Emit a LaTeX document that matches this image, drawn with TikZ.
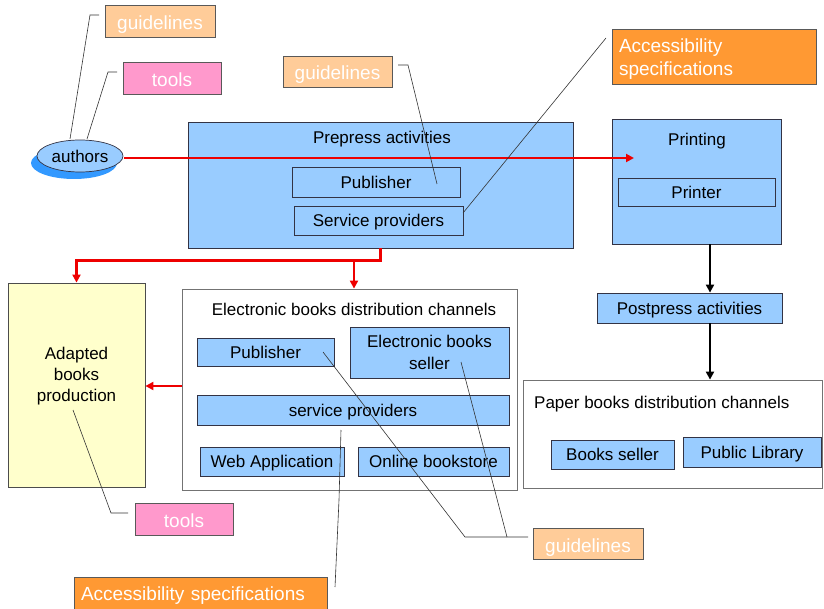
\documentclass[tikz,border=0pt]{standalone}
\usepackage{fontspec}
\setmainfont{Liberation Sans}
\usetikzlibrary{arrows.meta,shapes.geometric}
\definecolor{boxblue}{HTML}{99CCFF}
\definecolor{shadowblue}{HTML}{3399FF}
\definecolor{peach}{HTML}{FFCC99}
\definecolor{pinkc}{HTML}{FF99CC}
\definecolor{orangec}{HTML}{FF9933}
\definecolor{paleyellow}{HTML}{FFFFCC}
\definecolor{redline}{HTML}{EE0000}
\definecolor{edge}{HTML}{333344}
\tikzset{
  bluebox/.style={draw=edge,fill=boxblue,line width=0.8pt,inner sep=0pt,font=\fontsize{17}{21}\selectfont,align=center,text depth=0pt},
  whitebox/.style={draw=black!55,fill=white,line width=0.8pt,inner sep=0pt},
  callout/.style={draw=black!65,line width=0.8pt,inner sep=0pt,text=white,font=\fontsize{19}{23}\selectfont,text height=17pt,text depth=0pt},
  txt/.style={inner sep=0pt,font=\fontsize{17}{21}\selectfont},
  leader/.style={draw=black!80,line width=0.6pt},
  redarrow/.style={draw=redline,line width=2.4pt,-{Triangle[length=8pt,width=8pt]}},
  blackarrow/.style={draw=black,line width=2.3pt,-{Triangle[length=8pt,width=8pt]}}
}
\begin{document}
\begin{tikzpicture}[x=1pt,y=-1pt]
\useasboundingbox (0,0) rectangle (824,609);
% callouts
\node[callout,fill=peach,minimum width=110,minimum height=32] (guides1) at (160,21) {guidelines};
\node[callout,fill=pinkc,minimum width=98,minimum height=32] (tools1) at (172,78) {tools};
\node[callout,fill=peach,minimum width=109,minimum height=31] (guides2) at (337.5,71.5) {guidelines};
\node[callout,fill=orangec,minimum height=55,text width=190,inner xsep=7pt,align=left,text height=14pt,text depth=22pt] (acc1) at (714,56.5) {Accessibility\\specifications};
\node[callout,fill=pinkc,minimum width=98,minimum height=32] (tools2) at (184,519) {tools};
\node[callout,fill=orangec,minimum height=32,text width=239,inner xsep=7pt,align=left,text height=15pt] (acc2) at (200.5,593) {Accessibility specifications};
\node[callout,fill=peach,minimum width=110,minimum height=31] (guides3) at (588,543.5) {guidelines};
% authors
\fill[shadowblue] (74,163) ellipse [x radius=43, y radius=16];
\node[ellipse,draw=edge,fill=boxblue,line width=0.7pt,minimum width=86,minimum height=32,inner sep=0pt,font=\fontsize{17}{21}\selectfont,text depth=0pt] (authors) at (80,156) {authors};
% prepress
\node[bluebox,minimum width=385,minimum height=126] (prepress) at (380.5,185) {};
\node[txt,anchor=base] (prepresst) at (382,144) {Prepress activities};
\node[bluebox,minimum width=168,minimum height=30] (pub1) at (376,182) {Publisher};
\node[bluebox,minimum width=169,minimum height=29] (serv1) at (378.5,220.5) {Service providers};
% printing
\node[bluebox,minimum width=169,minimum height=125] (printing) at (696.5,181.5) {};
\node[txt,anchor=base] (printingt) at (697,146) {Printing};
\node[bluebox,minimum width=157,minimum height=28] (printer) at (696.5,192) {Printer};
% postpress and paper
\node[bluebox,minimum width=185,minimum height=30] (postpress) at (689.5,308) {Postpress activities};
\node[whitebox,minimum width=299,minimum height=108] (paper) at (672.5,434) {};
\node[txt,anchor=base west] (papert) at (534,408.5) {Paper books distribution channels};
\node[bluebox,minimum width=123,minimum height=29] (bseller) at (612.5,454.5) {Books seller};
\node[bluebox,minimum width=138,minimum height=30] (publib) at (752,452) {Public Library};
% adapted
\node[draw=black!70,fill=paleyellow,line width=0.8pt,minimum width=137,minimum height=204,inner sep=0pt] (adapted) at (76.5,385) {};
\node[txt,align=center,font=\fontsize{17}{21}\selectfont] (adaptedt) at (76.5,376) {Adapted\\books\\production};
% electronic
\node[whitebox,minimum width=335,minimum height=201] (elec) at (349.5,389.5) {};
\node[txt,anchor=base] (elect) at (354,316) {Electronic books distribution channels};
\node[bluebox,minimum width=137,minimum height=28] (pub2) at (265.5,352) {Publisher};
\node[bluebox,minimum width=159,minimum height=51,font=\fontsize{17}{22}\selectfont] (seller) at (429.5,352.5) {Electronic books\\seller};
\node[bluebox,minimum width=312,minimum height=30] (serv2) at (353,410) {service providers};
\node[bluebox,minimum width=144,minimum height=29] (webapp) at (272,461.5) {Web Application};
\node[bluebox,minimum width=151,minimum height=29] (online) at (433.5,461.5) {Online bookstore};
% coordinates
\coordinate (printin) at (634,158);
\coordinate (authout) at (124,158);
\coordinate (split) at (354,260);
\coordinate (ry) at (0,386);
\coordinate (bx) at (710,0);
% red connectors
\draw[redarrow] (authout) -- (printin);
\draw[redarrow] (prepress.south) -- ++(0,12) -| (adapted.north);
\draw[redarrow] (split) -- (split |- elec.north);
\draw[redarrow] (elec.west |- ry) -- (adapted.east |- ry);
% black connectors
\draw[blackarrow] (printing.south -| bx) -- (postpress.north -| bx);
\draw[blackarrow] (postpress.south -| bx) -- (paper.north -| bx);
% leader lines
\coordinate (l1a) at (70,139); \coordinate (l1b) at (90,15); \coordinate (l1c) at (99,15);
\draw[leader] (l1a) -- (l1b) -- (l1c);
\coordinate (l2a) at (87,139); \coordinate (l2b) at (108,72); \coordinate (l2c) at (117,72);
\draw[leader] (l2a) -- (l2b) -- (l2c);
\coordinate (l3a) at (398,65); \coordinate (l3b) at (408,65); \coordinate (l3c) at (437,184);
\draw[leader] (l3a) -- (l3b) -- (l3c);
\coordinate (l4a) at (463,213); \coordinate (l4b) at (606,38);
\draw[leader] (l4a) -- (l4b);
\coordinate (l5a) at (73,410); \coordinate (l5b) at (111,513); \coordinate (l5c) at (128,513);
\draw[leader] (l5a) -- (l5b) -- (l5c);
\coordinate (l6a) at (341,430); \coordinate (l6b) at (339,500); \coordinate (l6c) at (335,587);
\draw[leader] (l6a) -- (l6b) -- (l6c);
\coordinate (l7a) at (323,352); \coordinate (l7b) at (465,537); \coordinate (l7c) at (528,537);
\draw[leader] (l7a) -- (l7b) -- (l7c);
\coordinate (l8a) at (461,362); \coordinate (l8b) at (507,537);
\draw[leader] (l8a) -- (l8b);
\end{tikzpicture}
\end{document}
